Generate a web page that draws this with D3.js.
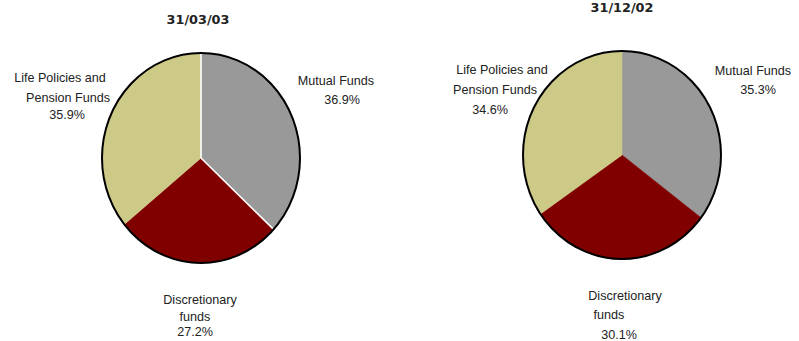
<!DOCTYPE html>
<html>
<head>
<meta charset="utf-8">
<script src="https://cdn.jsdelivr.net/npm/d3@7"></script>
<style>
  html, body { margin: 0; padding: 0; background: #fff; }
  svg { display: block; }
  .title { font-family: "DejaVu Sans", sans-serif; font-weight: bold; font-size: 12.8px; fill: #222; }
  .lbl { font-family: "Liberation Sans", Arial, sans-serif; font-size: 12.6px; fill: #222; }
</style>
</head>
<body>
<script>
// Asset mix by category, two reporting dates
const categories = ["Mutual Funds", "Discretionary funds", "Life Policies and Pension Funds"];
const dates = ["31/03/03", "31/12/02"];
const shares0303 = [36.9, 27.2, 35.9];
const shares1202 = [35.3, 30.1, 34.6];
const colors = ["#999999", "#800000", "#CDCA88"];

// Label lines per category (text only; placement handled in layout below)
const labelLines = [
  ["Mutual Funds"],
  ["Discretionary", "funds"],
  ["Life Policies and", "Pension Funds"]
];

const W = 799, H = 341;
const svg = d3.select("body").append("svg").attr("width", W).attr("height", H);

const pie = d3.pie().sort(null).value(d => d);
const arcUnit = d3.arc().innerRadius(0).outerRadius(1);
const fmt = v => d3.format(".1f")(v) + "%";

// Layout of each chart: pie geometry, title and per-line label anchors
const layouts = [
  {
    cx: 201, cy: 158, rx: 99, ry: 105, titleX: 198, titleY: 24, whiteEdges: 0,
    labels: [
      [[336, 85], [342, 104]],
      [[200, 304], [195, 321], [195, 336]],
      [[60, 82], [68, 102], [67, 119]]
    ]
  },
  {
    cx: 622, cy: 155, rx: 99, ry: 104, titleX: 622, titleY: 12, whiteEdges: null,
    labels: [
      [[753, 75], [758, 94]],
      [[625, 300], [609, 319], [619, 339]],
      [[502, 74], [495, 94], [490, 114]]
    ]
  }
];

[shares0303, shares1202].forEach((values, i) => {
  const L = layouts[i];
  const g = svg.append("g");

  g.append("text").attr("class", "title")
    .attr("x", L.titleX).attr("y", L.titleY)
    .attr("text-anchor", "middle").text(dates[i]);

  const pg = g.append("g")
    .attr("transform", `translate(${L.cx},${L.cy}) scale(${L.rx},${L.ry})`);
  const arcs = pie(values);

  pg.selectAll("path.slice").data(arcs).join("path")
    .attr("class", "slice")
    .attr("d", arcUnit)
    .attr("fill", (d, j) => colors[j])
    .attr("stroke", (d, j) => colors[j])
    .attr("stroke-width", 0.6)
    .attr("vector-effect", "non-scaling-stroke");

  // white separators along the edges of one slice
  if (L.whiteEdges !== null) {
    const a = arcs[L.whiteEdges];
    [a.startAngle, a.endAngle].forEach(t => {
      pg.append("line")
        .attr("x1", 0).attr("y1", 0)
        .attr("x2", Math.sin(t)).attr("y2", -Math.cos(t))
        .attr("stroke", "#fff").attr("stroke-width", 1.6)
        .attr("vector-effect", "non-scaling-stroke");
    });
  }

  // outer rim
  pg.append("circle").attr("r", 1)
    .attr("fill", "none").attr("stroke", "#000").attr("stroke-width", 2)
    .attr("vector-effect", "non-scaling-stroke");

  // labels: category lines then the percentage
  values.forEach((v, j) => {
    const lines = labelLines[j].concat([fmt(v)]);
    lines.forEach((t, k) => {
      const p = L.labels[j][k];
      g.append("text").attr("class", "lbl")
        .attr("x", p[0]).attr("y", p[1])
        .attr("text-anchor", "middle").text(t);
    });
  });
});
</script>
</body>
</html>
